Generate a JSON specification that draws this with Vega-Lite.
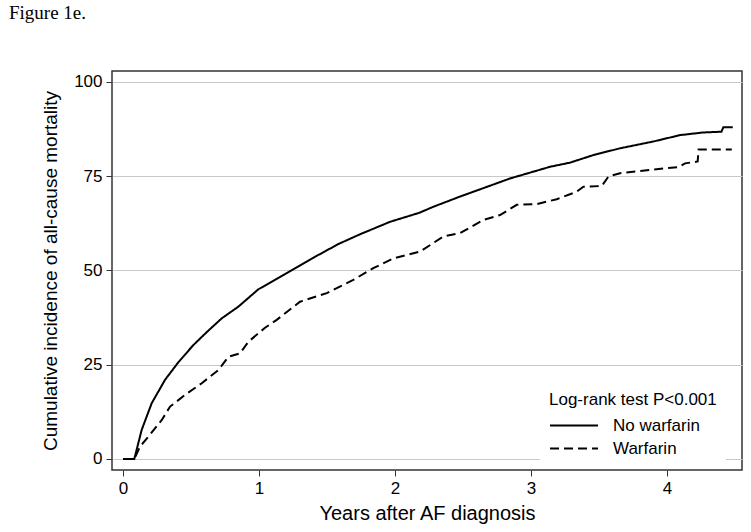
{
  "$schema": "https://vega.github.io/schema/vega-lite/v6.json",
  "autosize": {"type": "none"},
  "padding": {"left": 112, "top": 71, "right": 9, "bottom": 62},
  "width": 630,
  "height": 399,
  "background": "white",
  "title": {"text": "Figure 1e.", "anchor": "start", "frame": "group", "dx": -103, "offset": 48, "font": "Liberation Serif", "fontSize": 19, "fontWeight": "normal", "color": "black"},
  "config": {
    "view": {"stroke": "#333333", "strokeWidth": 1.5},
    "font": "Liberation Sans"
  },
  "data": {"values": [
    {"t": 0, "v": 0, "g": "No warfarin"},
    {"t": 0.083, "v": 0, "g": "No warfarin"},
    {"t": 0.137, "v": 7.7, "g": "No warfarin"},
    {"t": 0.211, "v": 14.8, "g": "No warfarin"},
    {"t": 0.309, "v": 21.0, "g": "No warfarin"},
    {"t": 0.41, "v": 25.8, "g": "No warfarin"},
    {"t": 0.517, "v": 30.2, "g": "No warfarin"},
    {"t": 0.62, "v": 33.8, "g": "No warfarin"},
    {"t": 0.726, "v": 37.3, "g": "No warfarin"},
    {"t": 0.848, "v": 40.4, "g": "No warfarin"},
    {"t": 0.995, "v": 45.0, "g": "No warfarin"},
    {"t": 1.204, "v": 49.3, "g": "No warfarin"},
    {"t": 1.436, "v": 54.1, "g": "No warfarin"},
    {"t": 1.583, "v": 57.0, "g": "No warfarin"},
    {"t": 1.743, "v": 59.6, "g": "No warfarin"},
    {"t": 1.963, "v": 62.9, "g": "No warfarin"},
    {"t": 2.179, "v": 65.3, "g": "No warfarin"},
    {"t": 2.282, "v": 66.9, "g": "No warfarin"},
    {"t": 2.478, "v": 69.6, "g": "No warfarin"},
    {"t": 2.846, "v": 74.4, "g": "No warfarin"},
    {"t": 3.140, "v": 77.5, "g": "No warfarin"},
    {"t": 3.287, "v": 78.6, "g": "No warfarin"},
    {"t": 3.458, "v": 80.6, "g": "No warfarin"},
    {"t": 3.654, "v": 82.4, "g": "No warfarin"},
    {"t": 3.899, "v": 84.2, "g": "No warfarin"},
    {"t": 4.096, "v": 85.9, "g": "No warfarin"},
    {"t": 4.267, "v": 86.6, "g": "No warfarin"},
    {"t": 4.40, "v": 86.8, "g": "No warfarin"},
    {"t": 4.414, "v": 88.0, "g": "No warfarin"},
    {"t": 4.483, "v": 88.0, "g": "No warfarin"},
    {"t": 0, "v": 0, "g": "Warfarin"},
    {"t": 0.083, "v": 0, "g": "Warfarin"},
    {"t": 0.125, "v": 3.3, "g": "Warfarin"},
    {"t": 0.186, "v": 5.9, "g": "Warfarin"},
    {"t": 0.284, "v": 10.3, "g": "Warfarin"},
    {"t": 0.346, "v": 13.9, "g": "Warfarin"},
    {"t": 0.456, "v": 17.0, "g": "Warfarin"},
    {"t": 0.579, "v": 20.1, "g": "Warfarin"},
    {"t": 0.701, "v": 23.6, "g": "Warfarin"},
    {"t": 0.775, "v": 27.1, "g": "Warfarin"},
    {"t": 0.860, "v": 28.0, "g": "Warfarin"},
    {"t": 0.922, "v": 31.1, "g": "Warfarin"},
    {"t": 1.044, "v": 34.8, "g": "Warfarin"},
    {"t": 1.130, "v": 36.9, "g": "Warfarin"},
    {"t": 1.301, "v": 41.7, "g": "Warfarin"},
    {"t": 1.498, "v": 44.0, "g": "Warfarin"},
    {"t": 1.693, "v": 47.5, "g": "Warfarin"},
    {"t": 1.840, "v": 50.6, "g": "Warfarin"},
    {"t": 1.988, "v": 53.2, "g": "Warfarin"},
    {"t": 2.184, "v": 55.0, "g": "Warfarin"},
    {"t": 2.355, "v": 59.0, "g": "Warfarin"},
    {"t": 2.478, "v": 59.9, "g": "Warfarin"},
    {"t": 2.649, "v": 63.4, "g": "Warfarin"},
    {"t": 2.772, "v": 64.7, "g": "Warfarin"},
    {"t": 2.895, "v": 67.4, "g": "Warfarin"},
    {"t": 3.042, "v": 67.6, "g": "Warfarin"},
    {"t": 3.189, "v": 68.9, "g": "Warfarin"},
    {"t": 3.336, "v": 70.9, "g": "Warfarin"},
    {"t": 3.385, "v": 72.2, "g": "Warfarin"},
    {"t": 3.520, "v": 72.4, "g": "Warfarin"},
    {"t": 3.569, "v": 74.9, "g": "Warfarin"},
    {"t": 3.654, "v": 75.8, "g": "Warfarin"},
    {"t": 3.875, "v": 76.7, "g": "Warfarin"},
    {"t": 4.083, "v": 77.4, "g": "Warfarin"},
    {"t": 4.132, "v": 78.4, "g": "Warfarin"},
    {"t": 4.225, "v": 78.9, "g": "Warfarin"},
    {"t": 4.232, "v": 82.1, "g": "Warfarin"},
    {"t": 4.476, "v": 82.1, "g": "Warfarin"}
  ]},
  "mark": {"type": "line", "color": "black", "strokeWidth": 2, "interpolate": "linear", "clip": true},
  "encoding": {
    "x": {"field": "t", "type": "quantitative",
      "scale": {"domain": [-0.081, 4.551], "nice": false, "zero": false},
      "axis": {"values": [0, 1, 2, 3, 4], "format": "d", "grid": false, "domain": false, "tickColor": "#333333", "tickSize": 6, "tickWidth": 1, "labelFontSize": 17, "labelFont": "Liberation Sans", "labelColor": "black", "labelPadding": 4, "title": "Years after AF diagnosis", "titleFontSize": 20, "titleFont": "Liberation Sans", "titleFontWeight": "normal", "titleColor": "black", "titlePadding": 7}},
    "y": {"field": "v", "type": "quantitative",
      "scale": {"domain": [-2.92, 102.9], "nice": false, "zero": false},
      "axis": {"values": [0, 25, 50, 75, 100], "grid": true, "gridColor": "#c8c8c8", "gridWidth": 1, "domain": false, "tickColor": "#333333", "tickSize": 6, "tickWidth": 1, "labelFontSize": 17, "labelFont": "Liberation Sans", "labelColor": "black", "labelPadding": 4, "title": "Cumulative incidence of all-cause mortality", "titleFontSize": 19, "titleFont": "Liberation Sans", "titleFontWeight": "normal", "titleColor": "black", "titlePadding": 13}},
    "strokeDash": {"field": "g", "type": "nominal",
      "scale": {"domain": ["No warfarin", "Warfarin"], "range": [[1, 0], [9, 5]]},
      "legend": {"title": "Log-rank test P<0.001", "orient": "none", "legendX": 428, "legendY": 312, "fillColor": "white", "padding": 9, "titleFontSize": 17, "titleFont": "Liberation Sans", "titleFontWeight": "normal", "titleColor": "black", "titlePadding": 5, "labelFontSize": 17, "labelFont": "Liberation Sans", "labelColor": "black", "symbolType": "stroke", "symbolSize": 2300, "symbolStrokeWidth": 2, "symbolStrokeColor": "black", "clipHeight": 23, "rowPadding": 0, "labelOffset": 14}}
  }
}
